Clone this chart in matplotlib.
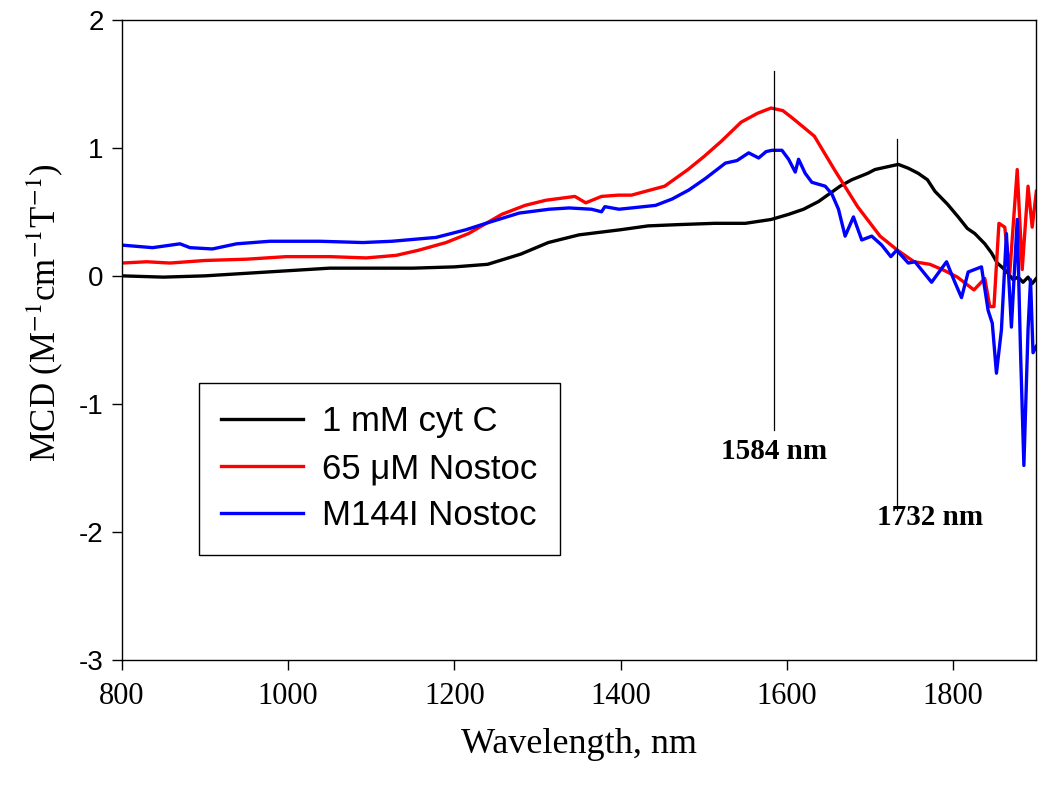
import matplotlib.pyplot as plt

plt.rcParams["axes.unicode_minus"] = False
plt.rcParams["mathtext.fontset"] = "stix"

# 1 mM cyt C (black)
cyt_x = [800, 850, 900, 950, 1000, 1050, 1100, 1150, 1200, 1240, 1280, 1313, 1350,
         1400, 1433, 1470, 1513, 1550, 1581, 1602, 1620, 1638, 1664, 1678, 1697,
         1706, 1720, 1734, 1746, 1758, 1769, 1778, 1793, 1806, 1817, 1826, 1838,
         1846, 1853, 1860, 1866, 1872, 1878, 1884, 1890, 1895, 1900]
cyt_y = [0.00, -0.01, 0.00, 0.02, 0.04, 0.06, 0.06, 0.06, 0.07, 0.09, 0.17, 0.26, 0.32,
         0.36, 0.39, 0.40, 0.41, 0.41, 0.44, 0.48, 0.52, 0.58, 0.70, 0.75, 0.80,
         0.83, 0.85, 0.87, 0.84, 0.80, 0.75, 0.66, 0.56, 0.46, 0.37, 0.33, 0.25,
         0.18, 0.10, 0.06, 0.02, -0.03, -0.01, -0.05, -0.01, -0.06, -0.02]

# 65 uM Nostoc (red)
nos_x = [800, 830, 858, 900, 950, 998, 1050, 1094, 1130, 1157, 1190, 1217, 1257,
         1285, 1310, 1345, 1358, 1377, 1397, 1413, 1453, 1481, 1500, 1521, 1545,
         1565, 1581, 1595, 1605, 1620, 1633, 1657, 1685, 1712, 1733, 1753, 1772,
         1790, 1805, 1825, 1838, 1844, 1849, 1855, 1862, 1868, 1877, 1883, 1890,
         1895, 1900]
nos_y = [0.10, 0.11, 0.10, 0.12, 0.13, 0.15, 0.15, 0.14, 0.16, 0.20, 0.26, 0.33, 0.48,
         0.55, 0.59, 0.62, 0.57, 0.62, 0.63, 0.63, 0.70, 0.83, 0.93, 1.05, 1.20,
         1.27, 1.31, 1.29, 1.24, 1.16, 1.09, 0.83, 0.54, 0.31, 0.20, 0.11, 0.09,
         0.04, -0.01, -0.11, -0.02, -0.24, -0.24, 0.41, 0.38, 0.02, 0.83, 0.05, 0.70,
         0.38, 0.66]

# M144I Nostoc (blue)
mut_x = [800, 837, 870, 882, 909, 938, 978, 1038, 1090, 1125, 1178, 1214, 1238,
         1278, 1314, 1338, 1365, 1377, 1381, 1398, 1413, 1442, 1462, 1482, 1502,
         1526, 1540, 1554, 1566, 1575, 1582, 1594, 1602, 1610, 1614, 1622, 1630,
         1646, 1654, 1662, 1670, 1680, 1690, 1702, 1714, 1725, 1732, 1746, 1754,
         1774, 1792, 1802, 1810, 1818, 1834, 1842, 1847, 1852, 1858, 1864, 1870,
         1877, 1881, 1885, 1890, 1893, 1896, 1900]
mut_y = [0.24, 0.22, 0.25, 0.22, 0.21, 0.25, 0.27, 0.27, 0.26, 0.27, 0.30, 0.36, 0.41,
         0.49, 0.52, 0.53, 0.52, 0.50, 0.54, 0.52, 0.53, 0.55, 0.60, 0.67, 0.76,
         0.88, 0.90, 0.96, 0.92, 0.97, 0.98, 0.98, 0.91, 0.81, 0.91, 0.80, 0.73,
         0.70, 0.64, 0.52, 0.31, 0.46, 0.28, 0.31, 0.24, 0.15, 0.20, 0.10, 0.11,
         -0.05, 0.11, -0.05, -0.17, 0.03, 0.07, -0.27, -0.37, -0.76, -0.42, 0.33, -0.40,
         0.44, -0.60, -1.48, -0.42, -0.03, -0.60, -0.55]

peak_pos = [1584, 1732]
peak_top = [1.6, 1.07]
peak_bottom = [-1.2, -1.83]
peak_labels = ["1584 nm", "1732 nm"]
label_pos = [(1584, -1.37), (1772, -1.89)]

fig = plt.figure(figsize=(10.5, 7.85), dpi=100)
ax = fig.add_axes([0.116, 0.159, 0.871, 0.816])

ax.plot(cyt_x, cyt_y, color="black", lw=2.4, label="1 mM cyt C")
ax.plot(nos_x, nos_y, color="#ff0000", lw=2.4, label="65 \u03bcM Nostoc")
ax.plot(mut_x, mut_y, color="#0000ff", lw=2.4, label="M144I Nostoc")

for x, t, b in zip(peak_pos, peak_top, peak_bottom):
    ax.plot([x, x], [b, t], color="black", lw=0.9)
for txt, (lx, ly) in zip(peak_labels, label_pos):
    ax.text(lx, ly, txt, ha="center", va="center", fontsize=21, fontweight="bold",
            family="Liberation Serif")

ax.set_xlim(800, 1900)
ax.set_ylim(-3, 2)
ax.set_xticks([800, 1000, 1200, 1400, 1600, 1800])
ax.set_yticks([-3, -2, -1, 0, 1, 2])
ax.set_yticklabels(["-3", "-2", "-1", "0", "1", "2"])
ax.tick_params(direction="out", length=7, width=1, top=False, right=False)
ax.tick_params(axis="y", pad=6)
ax.tick_params(axis="x", pad=9)
for lab in ax.get_xticklabels():
    lab.set_fontfamily("Liberation Serif")
    lab.set_fontsize(22)
for lab in ax.get_yticklabels():
    lab.set_fontfamily("Liberation Sans")
    lab.set_fontsize(20)
for s in ax.spines.values():
    s.set_linewidth(1.0)

ax.set_xlabel("Wavelength, nm", fontsize=26, family="Liberation Serif", labelpad=12)
ax.set_ylabel("MCD (M$^{-1}$cm$^{-1}$T$^{-1}$)", fontsize=25, family="Liberation Serif")
ax.yaxis.set_label_coords(-0.062, 0.542)

leg = ax.legend(loc="upper left", bbox_to_anchor=(0.084, 0.433), fancybox=False,
                framealpha=1, edgecolor="black", handlelength=2.35,
                prop={"family": "Liberation Sans", "size": 25},
                borderpad=0.65, labelspacing=0.4, handletextpad=0.55,
                borderaxespad=0)
leg.get_frame().set_linewidth(1.0)

fig.savefig("out.png", dpi=100)
